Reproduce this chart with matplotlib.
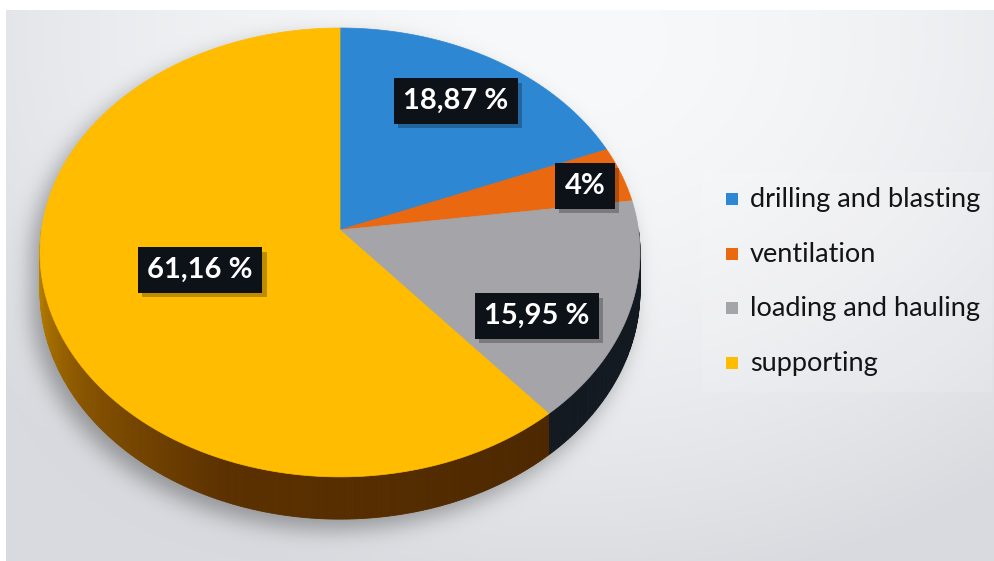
import numpy as np
import matplotlib.pyplot as plt
from matplotlib.patches import Polygon, Rectangle
from matplotlib.collections import PolyCollection
from matplotlib.path import Path
from matplotlib.colors import to_rgb
from matplotlib import patheffects

# share of working time per operation (%)
categories = ['drilling and blasting', 'ventilation', 'loading and hauling', 'supporting']
values = [18.87, 4, 15.95, 61.16]
pct_labels = ['18,87 %', '4%', '15,95 %', '61,16 %']

top_colors = ['#2e87d2', '#ea680f', '#a5a5a9', '#ffbc00']

W, H = 994, 561

# pie geometry (pixels): centre, radii, perspective factor, thickness
cx, cy = 340, 230
Rx, Ry = 298.5, 222.2
persp = 0.1
depth = 38.0


def proj(u, v, z=0.0):
    s = 1.0 / (1.0 + persp * v)
    return cx + Rx * u * s, cy - Ry * v * s + z * s


def side_color(i, th):
    # shading of the rim, darker towards the front
    if categories[i] == 'supporting':
        stops_t = [180, 215, 250, 320]
        stops_c = [to_rgb('#c98f00'), to_rgb('#8a5600'), to_rgb('#5c3100'), to_rgb('#4a2600')]
        t = np.interp(th, stops_t, [0, 1, 2, 3])
        k = int(min(np.floor(t), 2))
        f = t - k
        return tuple((1 - f) * np.array(stops_c[k]) + f * np.array(stops_c[k + 1]))
    if categories[i] == 'loading and hauling':
        return to_rgb('#121920')
    return to_rgb('#333333')


fig = plt.figure(figsize=(W / 100, H / 100), dpi=100)
ax = fig.add_axes([0, 0, 1, 1])
ax.set_xlim(0, W)
ax.set_ylim(H, 0)
ax.axis('off')

# slice angles, clockwise from 12 o'clock
fr = np.array(values) / np.sum(values)
edges = 90 - 360 * np.concatenate([[0], np.cumsum(fr)])

# silhouette of the disc (top face + rim) for the drop shadow
th_all = np.linspace(0, 360, 721)
tx, ty = proj(np.cos(np.radians(th_all)), np.sin(np.radians(th_all)))
bx, by = proj(np.cos(np.radians(th_all)), np.sin(np.radians(th_all)), depth)
yy, xx = np.mgrid[0:H, 0:W]
pts = np.column_stack([xx.ravel() + 9, yy.ravel() - 10])
mask = (Path(np.column_stack([tx, ty])).contains_points(pts) |
        Path(np.column_stack([bx, by])).contains_points(pts)).reshape(H, W).astype(float)
sig = 11
kx = np.arange(-3 * sig, 3 * sig + 1)
kern = np.exp(-0.5 * (kx / sig) ** 2)
kern /= kern.sum()
mask = np.apply_along_axis(lambda r: np.convolve(r, kern, mode='same'), 1, mask)
mask = np.apply_along_axis(lambda c: np.convolve(c, kern, mode='same'), 0, mask)

# background: light grey gradient with white border strip
g = np.clip(((xx - 560) / 720.0) ** 2 + ((yy - 40) / 560.0) ** 2, 0, 1) ** 0.9
c0 = np.array(to_rgb('#f8f9fa'))
c1 = np.array(to_rgb('#d8dadf'))
bg = (1 - g[..., None]) * c0 + g[..., None] * c1
bg *= (1 - 0.33 * mask)[..., None]
bg[:10, :] = 1.0
bg[:, :6] = 1.0
ax.imshow(bg, extent=(0, W, H, 0), zorder=0, interpolation='bilinear')

# rim (visible lower half)
quads, cols = [], []
for i in range(len(values)):
    a0, a1 = edges[i + 1], edges[i]
    seg = np.linspace(a0, a1, max(int(abs(a1 - a0) * 2), 2))
    for j in range(len(seg) - 1):
        t0, t1 = seg[j], seg[j + 1]
        tm = ((t0 + t1) / 2) % 360
        if tm < 180:
            continue
        r0, r1 = np.radians(t0), np.radians(t1)
        p00 = proj(np.cos(r0), np.sin(r0))
        p01 = proj(np.cos(r1), np.sin(r1))
        p11 = proj(np.cos(r1), np.sin(r1), depth)
        p10 = proj(np.cos(r0), np.sin(r0), depth)
        quads.append([p00, p01, p11, p10])
        cols.append(side_color(i, tm))
pc = PolyCollection(quads, facecolors=cols, edgecolors=cols, linewidths=0.6, zorder=2)
ax.add_collection(pc)

# top face
for i in range(len(values)):
    th = np.radians(np.linspace(edges[i + 1], edges[i], 200))
    px, py = proj(np.cos(th), np.sin(th))
    poly = np.vstack([[cx, cy], np.column_stack([px, py])])
    ax.add_patch(Polygon(poly, closed=True, facecolor=top_colors[i],
                         edgecolor=top_colors[i], linewidth=0.5, zorder=3))

# value labels in dark boxes with a soft drop shadow
label_pos = [(456, 101), (585, 186), (537, 316), (200, 270)]
for (lx, ly), txt in zip(label_pos, pct_labels):
    t = ax.text(lx, ly, txt, ha='center', va='center', fontsize=21,
                fontfamily='Lato', fontweight='bold', color='white', zorder=5,
                bbox=dict(boxstyle='square,pad=0.33', facecolor='#0c1218',
                          edgecolor='none'))
    t.get_bbox_patch().set_path_effects([
        patheffects.SimplePatchShadow(offset=(3, -3), shadow_rgbFace='black', alpha=0.25),
        patheffects.Normal()])

# legend
ax.add_patch(Rectangle((702, 172), 290, 220, facecolor='white', alpha=0.12,
                       edgecolor='none', zorder=1))
baselines = [207, 262, 316, 371]
for name, col, yb in zip(categories, top_colors, baselines):
    ax.add_patch(Rectangle((726, yb - 14), 12, 12, facecolor=col,
                           edgecolor='none', zorder=5))
    ax.text(750, yb, name, ha='left', va='baseline', fontsize=19.5,
            fontfamily='Lato', color='#141414', zorder=5)

fig.savefig('out.png', dpi=100)
